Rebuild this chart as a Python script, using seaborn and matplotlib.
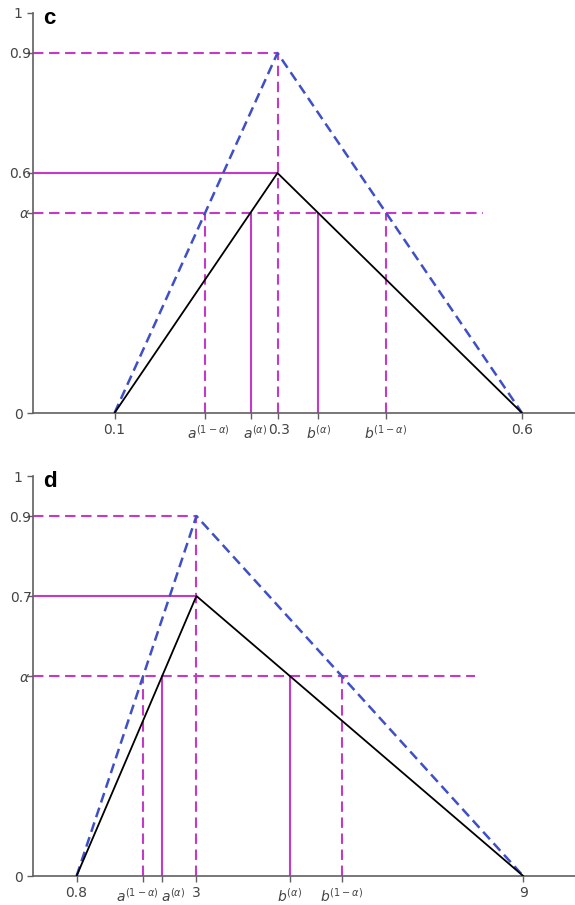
import numpy as np
import pandas as pd
import seaborn as sns
import matplotlib
matplotlib.use("Agg")
import matplotlib.pyplot as plt
from matplotlib.transforms import ScaledTranslation

# --- values ---
alpha = 0.5

# panel c
c_x = [0.1, 0.3, 0.6]
c_lower = [0, 0.6, 0]
c_upper = [0, 0.9, 0]
c_cuts = [0.211, 0.267, 0.35, 0.433]      # a(1-a), a(a), b(a), b(1-a)
c_alpha_end = 0.552
c_xlim = 0.665

# panel d
d_x = [0.8, 3, 9]
d_lower = [0, 0.7, 0]
d_upper = [0, 0.9, 0]
d_cuts = [2.022, 2.371, 4.714, 5.667]
d_alpha_end = 8.12
d_xlim = 9.95

cut_labels = [r'$a^{(1-\alpha)}$', r'$a^{(\alpha)}$', r'$b^{(\alpha)}$', r'$b^{(1-\alpha)}$']

sns.set_style("ticks")
plt.rcParams['font.family'] = ['DejaVu Sans']

MAG = '#c43ac8'
BLUE = '#3f4fc6'
GREY = '#444444'
SPINE = '#606060'
DASH_M = (0, (5, 2.7))

fig = plt.figure(figsize=(5.75, 9.05), dpi=100)
ax_c = fig.add_axes([33 / 575, 492 / 905, 542 / 575, 400 / 905])
ax_d = fig.add_axes([33 / 575, 29 / 905, 542 / 575, 400 / 905])


def shift(label, dx_px):
    label.set_transform(label.get_transform() +
                        ScaledTranslation(dx_px / 100, 0, fig.dpi_scale_trans))


def draw(ax, xs, lower, upper, cuts, alpha_end, xmax, letter, xshifts):
    peak = xs[1]
    top = upper[1]
    mid = lower[1]
    # magenta guide lines
    ax.hlines(top, 0, peak, color=MAG, lw=1.5, ls=DASH_M, zorder=2)
    ax.hlines(mid, 0, peak, color=MAG, lw=1.5, zorder=2)
    ax.hlines(alpha, 0, alpha_end, color=MAG, lw=1.5, ls=DASH_M, zorder=2)
    ax.vlines(peak, 0, top, color=MAG, lw=1.5, ls=DASH_M, zorder=2)
    ax.vlines([cuts[0], cuts[3]], 0, alpha, color=MAG, lw=1.5, ls=DASH_M, zorder=2)
    ax.vlines([cuts[1], cuts[2]], 0, alpha, color=MAG, lw=1.5, zorder=2)

    df = pd.DataFrame({'x': xs, 'lower': lower, 'upper': upper})
    sns.lineplot(data=df, x='x', y='upper', ax=ax, sort=False, color=BLUE,
                 lw=1.8, zorder=3)
    ax.lines[-1].set_linestyle((0, (4, 2.2)))
    sns.lineplot(data=df, x='x', y='lower', ax=ax, sort=False, color='black',
                 lw=1.3, zorder=4)

    ax.set_xlim(0, xmax)
    ax.set_ylim(0, 1)
    ax.tick_params(labelsize=10, colors=GREY, length=4, width=1)
    ax.tick_params(color=SPINE)
    ticks = [xs[0], cuts[0], cuts[1], peak, cuts[2], cuts[3], xs[2]]
    fmt = lambda v: ('%g' % v)
    labels = [fmt(xs[0]), cut_labels[0], cut_labels[1], fmt(peak),
              cut_labels[2], cut_labels[3], fmt(xs[2])]
    ax.set_xticks(ticks)
    ax.set_xticklabels(labels)
    ax.set_yticks([0, alpha, mid, top, 1])
    ax.set_yticklabels(['0', r'$\alpha$', fmt(mid), fmt(top), '1'])
    ax.set_xlabel('')
    ax.set_ylabel('')
    for s in ['top', 'right']:
        ax.spines[s].set_visible(False)
    for s in ['left', 'bottom']:
        ax.spines[s].set_color(SPINE)
        ax.spines[s].set_linewidth(1.2)

    # nudge labels the way they sit in the original
    for lab, dx in zip(ax.get_xticklabels(), xshifts):
        if dx:
            shift(lab, dx)
    for lab, dx in zip(ax.get_yticklabels(), [0, 7, 9, 9, 0]):
        if dx:
            shift(lab, dx)

    ax.text(0.018, 1.0, letter, transform=ax.transAxes + ScaledTranslation(0, 0.05, fig.dpi_scale_trans),
            fontsize=16, fontweight='bold', family='Liberation Sans', color='black',
            va='top', ha='left')


draw(ax_c, c_x, c_lower, c_upper, c_cuts, c_alpha_end, c_xlim, 'c',
     [0, 3, 5, 2, 0, 0, 0])
draw(ax_d, d_x, d_lower, d_upper, d_cuts, d_alpha_end, d_xlim, 'd',
     [0, -6, 11, 0, 0, 0, 0])

fig.savefig('out.png', dpi=100)
